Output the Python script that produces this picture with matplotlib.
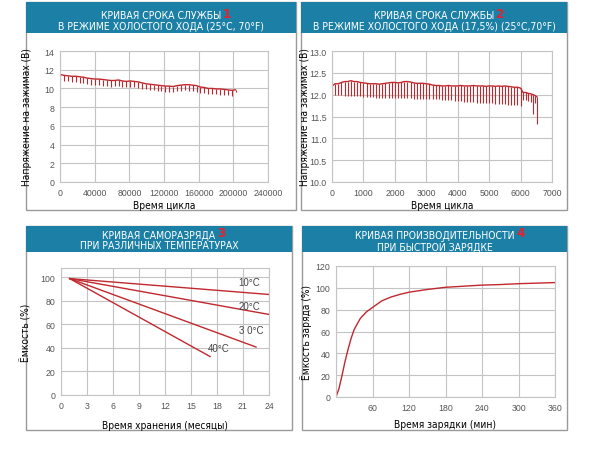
import matplotlib.pyplot as plt
from matplotlib.patches import Rectangle

# Кривая 1: срок службы (25°C) — зубцы: цикл, верх, низ
p1_cycles = [0, 4500, 9000, 13500, 18000, 22500, 27000, 31500, 36000, 40500,
             45000, 49500, 54000, 58500, 63000, 67500, 72000, 76500, 81000, 85500,
             90000, 94500, 99000, 103500, 108000, 112500, 117000, 121500, 126000, 130500,
             135000, 139500, 144000, 148500, 153000, 157500, 162000, 166500, 171000, 175500,
             180000, 184500, 189000, 193500, 198000, 202500]
p1_top = [11.5, 11.4, 11.35, 11.3, 11.3, 11.25, 11.2, 11.1, 11.05, 11.0,
          11.0, 10.95, 10.9, 10.85, 10.85, 10.9, 10.8, 10.75, 10.8, 10.75,
          10.7, 10.6, 10.5, 10.45, 10.4, 10.35, 10.3, 10.25, 10.25, 10.2,
          10.3, 10.35, 10.4, 10.4, 10.35, 10.3, 10.15, 10.1, 10.0, 10.0,
          9.95, 9.95, 9.9, 9.85, 9.8, 9.85]
p1_bottom = [10.9, 10.8, 10.75, 10.7, 10.65, 10.6, 10.6, 10.5, 10.4, 10.4,
             10.35, 10.3, 10.3, 10.2, 10.25, 10.25, 10.15, 10.1, 10.1, 10.1,
             10.0, 9.95, 9.9, 9.85, 9.8, 9.75, 9.7, 9.6, 9.65, 9.6,
             9.7, 9.75, 9.8, 9.75, 9.7, 9.65, 9.55, 9.5, 9.45, 9.4,
             9.4, 9.35, 9.3, 9.3, 9.2, 9.6]

# Кривая 2: срок службы (17,5%)
p2_cycles = [0, 100, 200, 300, 400, 500, 600, 700, 800, 900,
             1000, 1100, 1200, 1300, 1400, 1500, 1600, 1700, 1800, 1900,
             2000, 2100, 2200, 2300, 2400, 2500, 2600, 2700, 2800, 2900,
             3000, 3100, 3200, 3300, 3400, 3500, 3600, 3700, 3800, 3900,
             4000, 4100, 4200, 4300, 4400, 4500, 4600, 4700, 4800, 4900,
             5000, 5100, 5200, 5300, 5400, 5500, 5600, 5700, 5800, 5900,
             6000, 6080, 6160, 6240, 6320, 6400, 6460, 6520]
p2_top = [12.2, 12.25, 12.25, 12.28, 12.3, 12.3, 12.32, 12.3, 12.3, 12.28,
          12.27, 12.26, 12.25, 12.25, 12.25, 12.24, 12.25, 12.26, 12.27, 12.28,
          12.28, 12.27, 12.28, 12.3, 12.3, 12.29, 12.27, 12.26, 12.26, 12.26,
          12.25, 12.24, 12.22, 12.21, 12.21, 12.2, 12.2, 12.21, 12.2, 12.2,
          12.2, 12.21, 12.2, 12.2, 12.2, 12.21, 12.2, 12.2, 12.2, 12.19,
          12.2, 12.2, 12.19, 12.2, 12.19, 12.2, 12.19, 12.18, 12.17, 12.17,
          12.15, 12.05, 12.05, 12.03, 12.02, 12.0, 11.98, 11.95]
p2_bottom = [12.0, 12.0, 11.99, 11.99, 11.98, 11.98, 11.97, 11.97, 11.96, 11.96,
             11.95, 11.95, 11.94, 11.94, 11.93, 11.93, 11.93, 11.92, 11.92, 11.92,
             11.92, 11.92, 11.92, 11.92, 11.92, 11.92, 11.91, 11.91, 11.91, 11.9,
             11.9, 11.9, 11.89, 11.89, 11.89, 11.88, 11.88, 11.87, 11.87, 11.86,
             11.85, 11.85, 11.84, 11.84, 11.83, 11.83, 11.82, 11.82, 11.81, 11.81,
             11.8, 11.8, 11.79, 11.79, 11.78, 11.78, 11.77, 11.77, 11.76, 11.76,
             11.75, 11.88, 11.87, 11.85, 11.83, 11.55, 11.8, 11.32]

# Кривая 3: саморазряд при разных температурах (начало и конец прямых)
p3_temps = ['10°C', '20°C', '3 0°C', '40°C']
p3_months = [[1, 24], [1, 24], [1, 22.5], [1, 17.2]]
p3_capacity = [[99, 85.5], [99, 68.5], [99, 40.8], [99, 32.7]]
p3_label_x = [21.7, 21.7, 21.9, 18.2]
p3_label_y = [96.4, 76, 55.5, 39.6]

# Кривая 4: быстрая зарядка
p4_minutes = [0, 5, 10, 15, 20, 25, 30, 40, 50, 60, 75, 90, 105, 120,
              150, 180, 210, 240, 270, 300, 330, 360]
p4_capacity = [0, 8, 20, 33, 44, 54, 62, 72, 78, 82, 88, 91.5, 94, 96,
               98.5, 100.5, 101.5, 102.5, 103, 103.8, 104.3, 104.8]

W, H = 596, 460
RED = '#c0282e'
BLUE = '#1b7fa6'
COND = dict(family='DejaVu Sans', fontstretch='condensed')
TICKF = ['Liberation Sans', 'DejaVu Sans']

fig = plt.figure(figsize=(W / 100, H / 100), dpi=100)
renderer = fig.canvas.get_renderer()


def rect(x0, y0, x1, y1):
    return [x0 / W, 1 - y1 / H, (x1 - x0) / W, (y1 - y0) / H]


def panel(x0, y0, x1, hy, y1, line1, line2, num, ty1, ty2):
    fig.patches.append(Rectangle((x0 / W, 1 - y1 / H), (x1 - x0) / W, (y1 - y0) / H,
                                 transform=fig.transFigure, facecolor='white',
                                 edgecolor='#9a9a9a', lw=1.0, zorder=-2))
    fig.patches.append(Rectangle((x0 / W, 1 - hy / H), (x1 - x0) / W, (hy - y0) / H,
                                 transform=fig.transFigure, facecolor=BLUE,
                                 edgecolor='none', zorder=-1))
    t1 = fig.text((x0 + x1) / 2 / W, 1 - ty1 / H, line1, color='white',
                  fontsize=7.5, ha='center', va='center', **COND)
    fig.text((x0 + x1) / 2 / W, 1 - ty2 / H, line2, color='white',
             fontsize=7.5, ha='center', va='center', **COND)
    bb = t1.get_window_extent(renderer)
    fig.text((bb.x1 + 2) / W, 1 - (ty1 - 2) / H, num, color='#e8222a',
             fontsize=9.5, fontweight='bold', ha='left', va='center', **COND)


def style(ax):
    ax.set_facecolor('none')
    ax.grid(True, color='#c4c4c4', lw=0.8)
    ax.set_axisbelow(True)
    for s in ax.spines.values():
        s.set_color('#c4c4c4')
        s.set_linewidth(0.8)
    ax.tick_params(length=0, labelsize=6.3, labelcolor='#555555', pad=4)
    for lab in ax.get_xticklabels() + ax.get_yticklabels():
        lab.set_family(TICKF)


def labels(ax, xl, yl, xy, yx):
    ax.set_xlabel(xl, fontsize=7.3, **COND)
    ax.set_ylabel(yl, fontsize=7.3, **COND)
    ax.xaxis.set_label_coords(0.5, xy)
    ax.yaxis.set_label_coords(yx, 0.5)


panel(26, 3, 296, 34, 211, 'КРИВАЯ СРОКА СЛУЖБЫ',
      'В РЕЖИМЕ ХОЛОСТОГО ХОДА (25°C, 70°F)', '1', 16, 27)
panel(301, 3, 567, 34, 211, 'КРИВАЯ СРОКА СЛУЖБЫ',
      'В РЕЖИМЕ ХОЛОСТОГО ХОДА (17,5%) (25°C,70°F)', '2', 16, 27)
panel(26, 227, 292, 253, 431, 'КРИВАЯ САМОРАЗРЯДА',
      'ПРИ РАЗЛИЧНЫХ ТЕМПЕРАТУРАХ', '3', 236, 246.5)
panel(302, 227, 567, 253, 431, 'КРИВАЯ ПРОИЗВОДИТЕЛЬНОСТИ',
      'ПРИ БЫСТРОЙ ЗАРЯДКЕ', '4', 236, 246.5)

# 1
ax1 = fig.add_axes(rect(60, 52, 268, 183))
ax1.plot(p1_cycles, p1_top, color=RED, lw=1.0)
ax1.vlines(p1_cycles, p1_bottom, p1_top, color=RED, lw=0.8)
ax1.set_xlim(0, 240000)
ax1.set_ylim(0, 14)
ax1.set_xticks(range(0, 240001, 40000))
ax1.set_yticks(range(0, 15, 2))
style(ax1)
labels(ax1, 'Время цикла', 'Напряжение на зажимах (В)', -0.14, -0.135)

# 2
ax2 = fig.add_axes(rect(332, 52, 552, 183))
ax2.plot(p2_cycles, p2_top, color=RED, lw=1.0)
ax2.vlines(p2_cycles, p2_bottom, p2_top, color=RED, lw=0.8)
ax2.set_xlim(0, 7000)
ax2.set_ylim(10, 13)
ax2.set_xticks(range(0, 7001, 1000))
ax2.set_yticks([10.0, 10.5, 11.0, 11.5, 12.0, 12.5, 13.0])
ax2.yaxis.set_major_formatter('{x:.1f}')
style(ax2)
labels(ax2, 'Время цикла', 'Напряжение на зажимах (В)', -0.14, -0.1)

# 3
ax3 = fig.add_axes(rect(61, 269, 269, 396))
for name, xs, ys, lx, ly in zip(p3_temps, p3_months, p3_capacity, p3_label_x, p3_label_y):
    ax3.plot(xs, ys, color=RED, lw=1.0)
    ax3.text(lx, ly, name, color='#444444', family=TICKF, fontsize=7, ha='center', va='center')
ax3.set_xlim(0, 24)
ax3.set_ylim(0, 108)
ax3.set_xticks(range(0, 25, 3))
ax3.set_yticks(range(0, 101, 20))
style(ax3)
labels(ax3, 'Время хранения (месяцы)', 'Ёмкость (%)', -0.2, -0.14)

# 4
ax4 = fig.add_axes(rect(336, 267, 555, 398))
ax4.plot(p4_minutes, p4_capacity, color=RED, lw=1.0)
ax4.set_xlim(0, 360)
ax4.set_ylim(0, 120)
ax4.set_xticks(range(0, 361, 60))
ax4.set_xticklabels([''] + [str(v) for v in range(60, 361, 60)])
ax4.set_yticks(range(0, 121, 20))
style(ax4)
labels(ax4, 'Время зарядки (мин)', 'Ёмкость заряда (%)', -0.17, -0.11)

fig.savefig('out.png', dpi=100)
